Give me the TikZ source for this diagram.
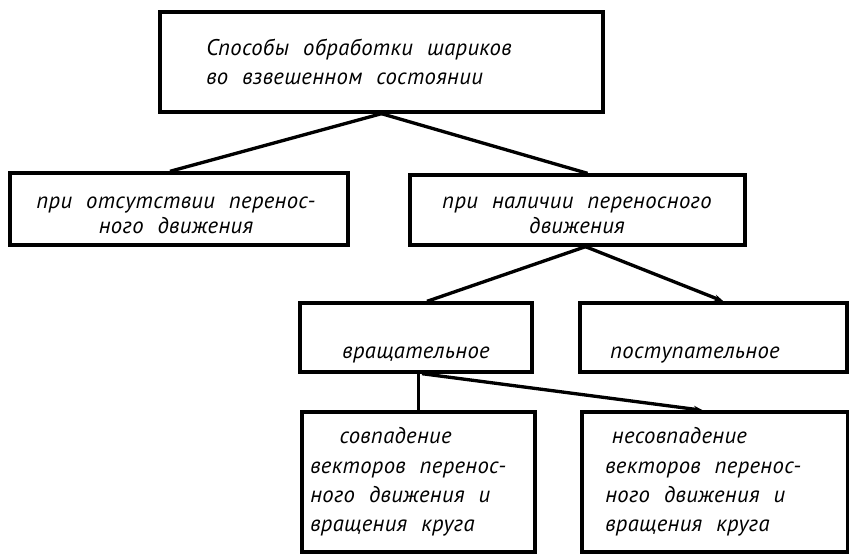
\documentclass[tikz,border=0pt]{standalone}
\usepackage{fontspec}
\newfontfamily\gost[LetterSpace=1.5,WordSpace=2.2]{PT Sans}
\usetikzlibrary{fit,calc,arrows.meta}

\begin{document}
\begin{tikzpicture}[x=0.75pt, y=-0.75pt,
		blok/.style={draw, line width=2.5pt, inner sep=0pt},
		txt/.style={anchor=west, align=left, inner sep=0pt, font=\fontsize{17}{22}\selectfont\gost\itshape},
		svyaz/.style={line width=2.5pt},
		strelka/.style={svyaz, -{Stealth[length=7pt, width=5pt]}}]
		\useasboundingbox (0, 0) rectangle (849, 554);
		
		\node[blok, fit={(160, 12) (603, 112)}] (sposob) {};
		\node[blok, fit={(10, 173) (348, 245)}] (otsut) {};
		\node[blok, fit={(410, 175) (745, 245)}] (nalich) {};
		\node[blok, fit={(300, 303) (532, 372)}] (vrasch) {};
		\node[blok, fit={(580, 303) (847, 372)}] (postup) {};
		\node[blok, fit={(302, 412) (535, 552)}] (sovp) {};
		\node[blok, fit={(582, 412) (848, 552)}] (nesovp) {};
		
		\node[txt] (t-sposob) at (206, 62) {Способы обработки шариков\\во взвешенном состоянии};
		\node[txt, anchor=center, align=center] (t-otsut) at (176, 215) {при отсутствии перенос-\\[-3pt]ного движения};
		\node[txt, anchor=center, align=center] (t-nalich) at (577, 215) {при наличии переносного\\[-3pt]движения};
		\node[txt, anchor=base] (t-vrasch) at (416, 358) {вращательное};
		\node[txt, anchor=base west] (t-postup) at (610, 358) {поступательное};
		\node[txt] (t-sovp) at (310, 482) {\hspace*{22pt}совпадение\\векторов перенос-\\ного движения и\\вращения круга};
		\node[txt] (t-nesovp) at (605, 482) {\hspace*{5pt}несовпадение\\векторов перенос-\\ного движения и\\вращения круга};
		
		\draw[svyaz] (sposob.south) -- ($(otsut.north)+(-9, 0)$);
		\draw[svyaz] (sposob.south) -- ($(nalich.north)+(10, 0)$);
		\draw[svyaz] ($(nalich.south)+(8, 0)$) -- ($(vrasch.north)+(11, 0)$);
		\draw[strelka] ($(nalich.south)+(8, 0)$) -- ($(postup.north)+(10, 0)$);
		\draw[svyaz] (sovp.north |- vrasch.south) -- (sovp.north);
		\draw[strelka] ($(vrasch.south)+(6, 0)$) -- ($(nesovp.north)+(-12, 0)$);
	\end{tikzpicture}
\end{document}
